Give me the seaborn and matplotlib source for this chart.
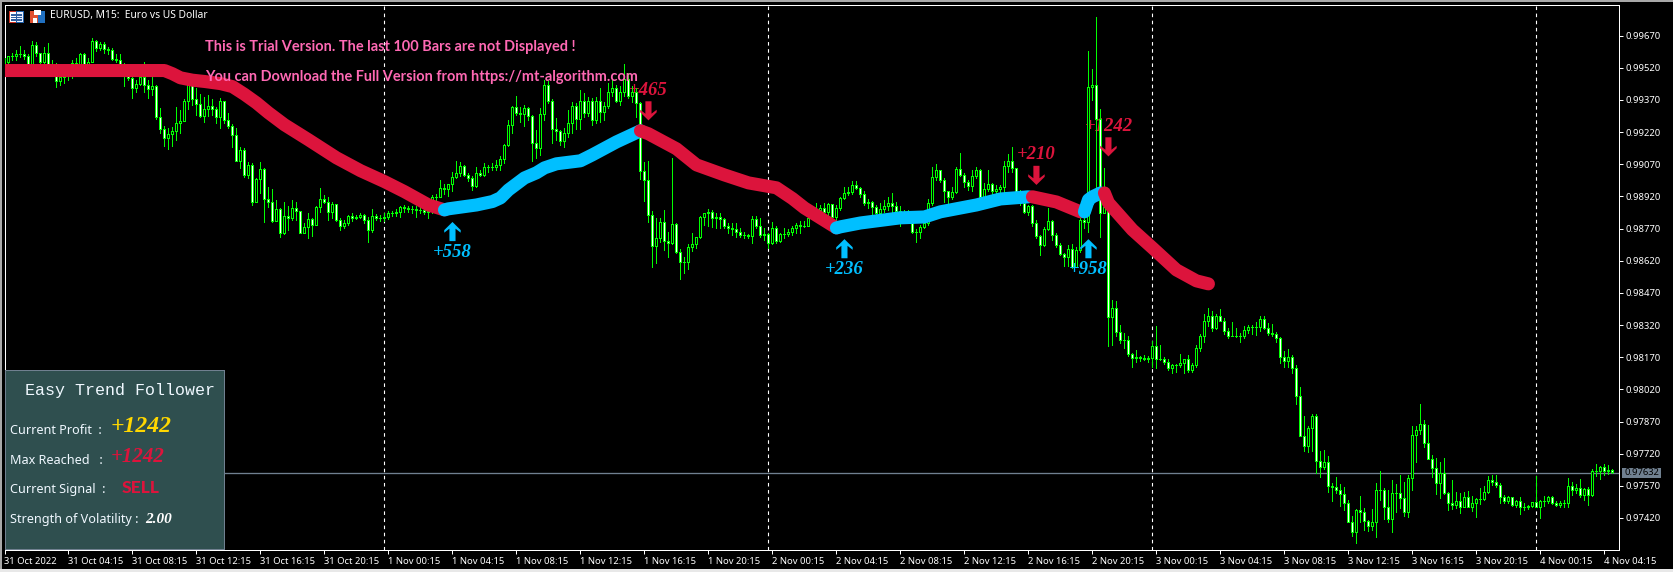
import matplotlib
matplotlib.use("Agg")
import matplotlib.pyplot as plt
from matplotlib.patches import Rectangle
from matplotlib.path import Path
import numpy as np
import pandas as pd
import seaborn as sns

# Prices are in points above 0.97000 (1 point = 0.00001)
POINT_BASE = 0.97
POINT = 1e-5

closes = [
2549,2573,2573,2585,2582,2576,2537,2625,2588,2549,
2588,2534,2526,2456,2479,2487,2503,2541,2534,2585,
2537,2549,2644,2611,2632,2607,2601,2563,2554,2532,
2503,2471,2425,2443,2479,2440,2420,2436,2292,2236,
2191,2210,2227,2261,2271,2367,2445,2373,2352,2296,
2327,2342,2327,2288,2364,2274,2250,2205,2087,2137,
2020,2065,1896,2001,2047,1907,1896,1803,1860,1751,
1829,1818,1865,1854,1751,1779,1814,1787,1870,1907,
1896,1849,1885,1810,1784,1798,1829,1821,1826,1831,
1810,1761,1829,1821,1818,1826,1842,1842,1848,1870,
1865,1863,1863,1857,1857,1845,1851,1916,1919,1958,
1954,1977,2010,2028,2063,2021,2005,1969,2031,2021,
2059,2059,2056,2067,2094,2161,2252,2338,2311,2304,
2332,2293,2171,2145,2303,2439,2367,2233,2227,2179,
2215,2261,2342,2280,2367,2311,2364,2277,2364,2314,
2342,2409,2425,2366,2409,2467,2386,2408,2355,2039,
1997,1833,1689,1725,1802,1714,1701,1791,1659,1616,
1616,1683,1698,1732,1823,1841,1847,1821,1826,1813,
1784,1774,1770,1756,1740,1740,1735,1813,1782,1740,
1745,1701,1771,1714,1745,1745,1756,1771,1787,1780,
1784,1818,1849,1857,1865,1849,1885,1823,1865,1912,
1935,1940,1971,1958,1930,1888,1893,1870,1842,1862,
1876,1888,1873,1854,1818,1834,1798,1756,1756,1776,
1795,1888,2010,2041,1997,1943,1916,1940,2047,2021,
1985,1969,2013,2044,1916,1954,1977,1947,1954,1963,
2063,2083,2052,1935,1888,1845,1873,1798,1733,1694,
1767,1806,1741,1694,1650,1636,1674,1592,1670,1810,
1802,2429,2440,2280,1844,1869,1359,1398,1289,1250,
1250,1185,1167,1169,1166,1161,1167,1222,1163,1160,
1149,1121,1133,1133,1141,1160,1110,1132,1211,1269,
1337,1362,1307,1362,1340,1293,1270,1270,1269,1269,
1297,1309,1312,1312,1346,1307,1284,1278,1261,1172,
1153,1172,1118,990,803,757,842,895,684,659,
679,570,563,552,533,488,402,356,457,446,
407,384,399,550,550,472,413,535,535,514,
449,605,807,829,857,771,693,651,584,631,
535,491,480,497,472,516,472,488,507,510,
539,597,589,574,519,500,516,480,499,472,
469,474,493,469,499,500,519,491,482,488,
491,570,550,561,527,553,527,639,639,656,
640,644,633]

highs = [
2565,2576,2591,2601,2622,2601,2582,2646,2641,2588,
2619,2635,2554,2541,2518,2526,2534,2557,2565,2591,
2591,2565,2658,2650,2638,2638,2619,2611,2585,2585,
2541,2510,2495,2464,2503,2545,2464,2476,2440,2331,
2249,2238,2243,2336,2324,2373,2495,2471,2425,2398,
2383,2394,2373,2339,2378,2367,2308,2258,2238,2152,
2145,2082,2075,2005,2081,2051,1963,1954,1904,1865,
1896,1873,1901,1896,1854,1795,1842,1821,1873,1958,
1927,1919,1896,1885,1818,1810,1834,1842,1834,1842,
1838,1826,1860,1838,1834,1842,1854,1854,1860,1873,
1880,1876,1876,1873,1873,1857,1873,1926,1932,1997,
1977,1979,2036,2083,2080,2067,2031,2013,2056,2044,
2075,2067,2075,2090,2109,2165,2277,2343,2389,2339,
2347,2336,2301,2231,2331,2461,2456,2373,2285,2230,
2238,2324,2362,2355,2417,2401,2383,2377,2383,2425,
2362,2448,2471,2440,2433,2537,2495,2436,2425,2362,
2082,2086,1854,1818,1818,1857,1756,2098,1798,1673,
1639,1698,1748,1732,1829,1844,1861,1857,1841,1841,
1818,1798,1795,1798,1771,1756,1745,1829,1829,1818,
1771,1748,1799,1782,1751,1771,1767,1782,1795,1805,
1807,1829,1865,1888,1881,1888,1891,1885,1881,1916,
1963,1966,1994,1994,1966,1943,1907,1899,1881,1888,
1904,1916,1935,1896,1873,1857,1857,1811,1767,1787,
1811,1907,2056,2072,2044,2005,1943,1962,2056,2122,
2028,1997,2041,2056,2047,1982,2044,1982,1974,1974,
2083,2119,2150,2052,1951,1904,1881,1881,1811,1741,
1776,1865,1811,1748,1702,1655,1694,1698,1686,1826,
1872,2596,2513,2756,2327,2051,1865,1437,1432,1320,
1281,1269,1188,1203,1175,1180,1175,1247,1315,1227,
1169,1160,1138,1138,1185,1160,1180,1141,1227,1278,
1371,1398,1384,1371,1393,1351,1304,1334,1304,1281,
1315,1318,1320,1335,1362,1362,1328,1325,1289,1265,
1199,1206,1180,1133,1029,895,848,905,905,732,
736,708,581,609,577,566,504,429,460,522,
468,410,462,584,639,558,550,597,578,620,
589,620,849,849,952,877,854,714,698,682,
698,542,597,542,535,542,546,522,511,561,
569,616,620,620,581,527,522,519,504,516,
488,480,496,616,504,522,522,522,500,499,
504,608,586,578,602,558,566,648,672,662,
672,667,648]

lows = [
2534,2529,2554,2554,2569,2560,2532,2538,2576,2541,
2541,2529,2513,2429,2440,2451,2464,2471,2495,2526,
2526,2523,2548,2596,2604,2588,2585,2557,2545,2510,
2436,2464,2381,2409,2440,2409,2381,2394,2280,2215,
2156,2140,2156,2184,2215,2274,2327,2345,2300,2292,
2269,2296,2300,2264,2241,2264,2238,2149,2087,2051,
2012,2005,1880,1894,1935,1802,1872,1800,1803,1730,
1745,1764,1810,1810,1748,1748,1728,1733,1792,1849,
1888,1810,1818,1807,1764,1772,1787,1803,1814,1818,
1798,1709,1756,1810,1807,1807,1814,1829,1829,1826,
1849,1845,1842,1826,1842,1838,1821,1842,1873,1922,
1932,1922,1943,2005,2013,2016,1994,1951,1966,2013,
2013,2036,2044,2041,2044,2075,2153,2215,2301,2269,
2249,2277,2083,2098,2114,2274,2355,2168,2184,2160,
2149,2199,2215,2233,2233,2292,2296,2254,2261,2269,
2277,2331,2386,2358,2347,2386,2378,2362,2292,2000,
1900,1802,1589,1608,1709,1670,1636,1698,1655,1533,
1561,1580,1667,1678,1725,1787,1782,1779,1771,1771,
1771,1748,1740,1732,1732,1728,1725,1704,1771,1732,
1717,1678,1698,1704,1709,1725,1735,1740,1748,1750,
1775,1792,1818,1811,1834,1818,1826,1811,1807,1857,
1907,1927,1932,1954,1919,1881,1865,1834,1834,1834,
1849,1857,1849,1818,1783,1811,1795,1748,1709,1725,
1772,1787,1881,1997,1989,1896,1876,1907,1935,2013,
1966,1951,1943,2005,1912,1916,1943,1919,1927,1912,
1935,2036,2036,1927,1881,1842,1834,1783,1725,1647,
1689,1761,1717,1686,1647,1593,1593,1584,1589,1662,
1771,1756,2370,1966,1729,1841,1223,1227,1269,1234,
1211,1175,1122,1146,1153,1157,1147,1122,1119,1157,
1138,1110,1097,1101,1122,1097,1101,1101,1122,1200,
1242,1315,1293,1300,1337,1278,1261,1269,1262,1241,
1258,1284,1278,1273,1292,1300,1273,1269,1241,1144,
1122,1122,1097,951,803,732,729,732,631,612,
648,542,500,538,477,457,399,336,304,402,
364,360,364,332,504,413,402,356,449,465,
429,426,550,682,812,752,693,612,532,511,
532,457,460,465,444,469,469,454,426,485,
504,538,574,566,491,488,491,477,472,438,
457,460,469,469,418,476,488,485,476,472,
469,469,527,535,516,504,480,522,616,602,
620,625,628]

# Trend follower segments: (bar index, points)
red1_bars = [0,35,40,42,44,47,50,54,57,60,63,66,70,76,83,89,95,100,106,110]
red1_vals = [2507,2507,2507,2492,2473,2462,2456,2446,2432,2396,2356,2310,2254,2184,2100,2040,1989,1942,1880,1857]
blue1_bars = [110,111,118,122,124,126,130,133,135,138,144,147,153,159]
blue1_vals = [1857,1862,1880,1896,1913,1950,2006,2030,2053,2072,2086,2114,2174,2226]
red2_bars = [159,161,168,173,180,186,193,197,200,208]
red2_vals = [2226,2212,2142,2067,2020,1983,1960,1910,1866,1773]
blue2_bars = [208,209,214,224,230,234,243,249,256]
blue2_vals = [1773,1778,1796,1820,1824,1848,1880,1908,1918]
red3_bars = [257,263,269]
red3_vals = [1918,1894,1848]
blue3_bars = [270,271,272,274]
blue3_vals = [1848,1904,1918,1936]
red4_bars = [275,276,282,287,293,298,301]
red4_vals = [1936,1890,1764,1680,1577,1526,1512]

# Signals
buy_bars = [112, 210, 271]
buy_vals = [1756, 1676, 1676]
buy_labels = ["+558", "+236", "+958"]
sell_bars = [161, 258, 276]
sell_vals = [2319, 2018, 2151]
sell_labels = ["+465", "+210", "+1242"]

period_bars = [95, 191, 287, 383]
last_price = 632

y_ticks = [0.99670,0.99520,0.99370,0.99220,0.99070,0.98920,0.98770,0.98620,
           0.98470,0.98320,0.98170,0.98020,0.97870,0.97720,0.97570,0.97420]
x_tick_step = 16
x_tick_labels = ["31 Oct 2022","31 Oct 04:15","31 Oct 08:15","31 Oct 12:15","31 Oct 16:15","31 Oct 20:15",
    "1 Nov 00:15","1 Nov 04:15","1 Nov 08:15","1 Nov 12:15","1 Nov 16:15","1 Nov 20:15",
    "2 Nov 00:15","2 Nov 04:15","2 Nov 08:15","2 Nov 12:15","2 Nov 16:15","2 Nov 20:15",
    "3 Nov 00:15","3 Nov 04:15","3 Nov 08:15","3 Nov 12:15","3 Nov 16:15","3 Nov 20:15",
    "4 Nov 00:15","4 Nov 04:15"]

GREEN = "#00FF00"
CRIMSON = "#DC143C"
SKY = "#00BFFF"
SLATE = "#708090"
PANEL = "#2F4F4F"
PINK = "#FF69B4"

W, H = 1674, 572
sns.set_theme(style="dark", rc={"axes.facecolor": "black", "figure.facecolor": "black",
                                "savefig.facecolor": "black", "axes.grid": False})
UI = "Noto Sans"
ITAL = "Liberation Serif"
plt.rcParams["font.family"] = [UI, "DejaVu Sans"]

fig = plt.figure(figsize=(W / 100, H / 100), dpi=100)
ax = fig.add_axes([4.5 / W, (H - 549.5) / H, 1615 / W, 545 / H])
ax.set_facecolor("black")


def price(v):
    return POINT_BASE + np.asarray(v, dtype=float) * POINT


def fx(x):
    return x / W


def fy(y):
    return 1 - y / H


def box(x0, y0, x1, y1, color, z=20, **kw):
    fig.add_artist(Rectangle((fx(x0), fy(y1)), (x1 - x0) / W, (y1 - y0) / H,
                             transform=fig.transFigure, facecolor=color,
                             edgecolor=kw.get("edgecolor", "none"),
                             linewidth=kw.get("linewidth", 0), zorder=z,
                             antialiased=False))


n = len(closes)
bars = np.arange(n)
opens = np.array([closes[0] - 15] + closes[:-1])
c = np.array(closes)

for b in period_bars:
    ax.axvline(b, color="white", lw=0.8, ls=(0, (3.2, 3.2)), zorder=1)

ax.axhline(price(last_price), color=SLATE, lw=0.95, zorder=1.5)

# Buy labels lie over the candles, sell labels under them
for b, v, t in zip(buy_bars, buy_vals, buy_labels):
    ax.annotate(t, (b, price(v)), xytext=(0, -15), textcoords="offset points", ha="center", va="center",
                color=SKY, fontsize=13.5, family=ITAL, style="italic", weight="bold", zorder=5.5)
for b, v, t in zip(sell_bars, sell_vals, sell_labels):
    ax.annotate(t, (b, price(v)), xytext=(0, 15), textcoords="offset points", ha="center", va="center",
                color=CRIMSON, fontsize=13.5, family=ITAL, style="italic", weight="bold", zorder=2)

# Candles
ax.vlines(bars, price(lows), price(highs), color=GREEN, lw=0.72, zorder=3, antialiased=False)
fills = ["black" if cl > op else "white" for op, cl in zip(opens, c)]
bottoms = price(np.minimum(opens, c))
heights = price(np.maximum(opens, c)) - bottoms
ax.bar(bars, heights, bottom=bottoms, width=0.5, color=fills, edgecolor=GREEN,
       linewidth=0.72, zorder=3.5, antialiased=False)

# Trend follower line
segments = [(red1_bars, red1_vals, CRIMSON), (blue1_bars, blue1_vals, SKY),
            (red2_bars, red2_vals, CRIMSON), (blue2_bars, blue2_vals, SKY),
            (red3_bars, red3_vals, CRIMSON), (blue3_bars, blue3_vals, SKY),
            (red4_bars, red4_vals, CRIMSON)]
for i, (bx, vy, col) in enumerate(segments):
    df = pd.DataFrame({"bar": bx, "price": price(vy)})
    sns.lineplot(data=df, x="bar", y="price", color=col, lw=9.4, ax=ax, sort=False,
                 estimator=None, legend=False, zorder=4 + i * 0.1,
                 solid_capstyle="round", solid_joinstyle="round")

# Arrows
up_arrow = Path([(0, 1), (0.86, 0.15), (0.86, -0.12), (0.32, 0.3), (0.32, -1), (-0.32, -1),
                 (-0.32, 0.3), (-0.86, -0.12), (-0.86, 0.15), (0, 1)], closed=True)
down_arrow = Path(np.array(up_arrow.vertices) * [1, -1], closed=True)
sns.scatterplot(x=buy_bars, y=price(buy_vals), marker=up_arrow, s=190, color=SKY, edgecolor="none",
                linewidth=0, ax=ax, zorder=6, legend=False)
sns.scatterplot(x=sell_bars, y=price(sell_vals), marker=down_arrow, s=190, color=CRIMSON, edgecolor="none",
                linewidth=0, ax=ax, zorder=6, legend=False)

# Axes
ax.set_xlim(0.025, 403.775)
ax.set_ylim(price(273), price(2815))
ax.set_xlabel("")
ax.set_ylabel("")
for s in ax.spines.values():
    s.set_visible(True)
    s.set_color("white")
    s.set_linewidth(0.72)
ax.yaxis.tick_right()
ax.set_yticks(y_ticks)
ax.set_yticklabels([f"{t:.5f}" for t in y_ticks])
ax.set_xticks(np.arange(len(x_tick_labels)) * x_tick_step)
ax.set_xticklabels(x_tick_labels, ha="left")
ax.tick_params(axis="both", colors="white", length=2.9, width=0.72, labelsize=6.8, pad=1.2,
               bottom=True, right=True, left=False, top=False)
ax.tick_params(axis="x", pad=2.5)

# Last price tag
box(1622, 467.5, 1661, 478, SLATE)
fig.text(fx(1641.5), fy(472.8), f"{POINT_BASE + last_price * POINT:.5f}", color="black", fontsize=6.8,
         ha="center", va="center", zorder=21)

# Header
fig.text(fx(50.5), fy(15.5), "EURUSD, M15:  Euro vs US Dollar", color="white", fontsize=7.4,
         va="center", ha="left", zorder=21)
box(9, 11, 24, 23, "#D03020")
box(10, 12, 23, 22, "#FFFFFF")
box(16, 11, 24, 23, "#1F5FA8")
box(17, 12, 23, 22, "#E8F0FF")
for yy in (14.5, 17, 19.5):
    box(11, yy, 22, yy + 1, "#3060A0")
box(30, 11, 38, 23, "#E05030")
box(38, 11, 45, 23, "#2070C0")
box(34, 10, 41, 15, "#FFFFFF")
box(33, 18, 37, 23, "#FFFFFF")

# Trial notice
fig.text(fx(205.5), fy(47.5), "This is Trial Version. The last 100 Bars are not Displayed !", color=PINK,
         fontsize=10.45, family="Lato", weight="bold", va="center", ha="left", zorder=21)
fig.text(fx(205.5), fy(77.5), "You can Download the Full Version from https://mt-algorithm.com", color=PINK,
         fontsize=10.45, family="Lato", weight="bold", va="center", ha="left", zorder=21)

# Panel
box(5, 369.5, 224.5, 549, PANEL, z=22, edgecolor=SLATE, linewidth=0.72)
PANEL_TXT = "#F0F8FF"
fig.text(fx(25), fy(390), "Easy Trend Follower", color=PANEL_TXT, fontsize=12, family="Liberation Mono",
         va="center", ha="left", zorder=23)
rows = [("Current Profit  :", 430), ("Max Reached   :", 460), ("Current Signal  :", 490),
        ("Strength of Volatility :", 520)]
for t, yy in rows:
    fig.text(fx(10.5), fy(yy), t, color=PANEL_TXT, fontsize=9.1, va="center", ha="left", zorder=23)
fig.text(fx(111), fy(426), "+1242", color="#FFD700", fontsize=17, family=ITAL, style="italic", weight="bold",
         va="center", ha="left", zorder=23)
fig.text(fx(111), fy(457), "+1242", color=CRIMSON, fontsize=15, family=ITAL, style="italic", weight="bold",
         va="center", ha="left", zorder=23)
fig.text(fx(121.5), fy(488), "SELL", color=CRIMSON, fontsize=12.5, family="Lato", weight="black",
         va="center", ha="left", zorder=23)
fig.text(fx(145.5), fy(519.5), "2.00", color="white", fontsize=11, family=ITAL, style="italic", weight="bold",
         va="center", ha="left", zorder=23)

# Window frame
box(0, 0, W, 2, "#A8A8A8", z=30)
box(0, 0, 2, H, "#A8A8A8", z=30)
box(0, 569, W, H, "#E8E8E8", z=30)
box(W - 1, 0, W, H, "#A8A8A8", z=30)

fig.savefig("out.png", dpi=100, facecolor="black")
